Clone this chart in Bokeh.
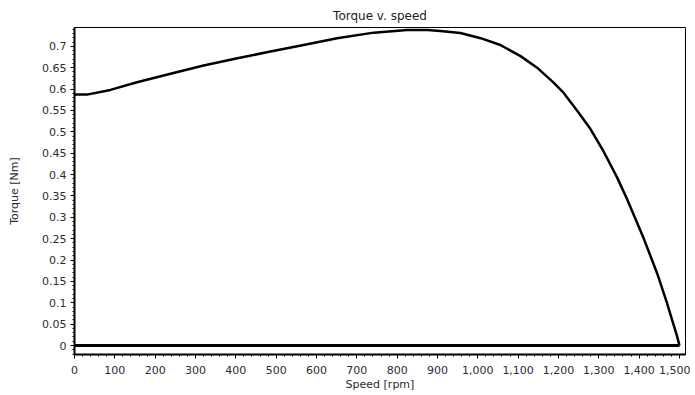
from bokeh.plotting import figure
from bokeh.models import Range1d, NumeralTickFormatter, SingleIntervalTicker
from bokeh.embed import file_html
from bokeh.resources import INLINE

# Data
speed = [0, 31, 89, 155, 238, 320, 404, 486, 568, 651, 742, 825, 875, 907, 957,
         1007, 1056, 1106, 1147, 1188, 1213, 1246, 1279, 1312, 1345, 1370,
         1412, 1445, 1469, 1494, 1500]
torque = [0.587, 0.587, 0.598, 0.616, 0.636, 0.655, 0.672, 0.688, 0.703, 0.719,
          0.732, 0.738, 0.738, 0.736, 0.731, 0.719, 0.703, 0.677, 0.650, 0.615,
          0.591, 0.550, 0.507, 0.454, 0.394, 0.343, 0.249, 0.168, 0.100, 0.022,
          0.0]
zero_speed = [0, 1500]
zero_torque = [0.0, 0.0]

FONT = "DejaVu Sans"
TXT = "#2a2a3a"

p = figure(width=690, height=393, output_backend="svg", toolbar_location=None,
           x_range=Range1d(0, 1515), y_range=Range1d(-0.021, 0.744),
           title="Torque v. speed",
           min_border_left=74, min_border_right=5, min_border_top=27, min_border_bottom=38)

p.line(speed, torque, line_color="black", line_width=2.5, line_join="round")
p.line(zero_speed, zero_torque, line_color="black", line_width=3)

p.title.align = "center"
p.title.text_font = FONT
p.title.text_font_size = "12px"
p.title.text_font_style = "normal"
p.title.text_color = "#222222"
p.title.standoff = 10

p.xgrid.visible = False
p.ygrid.visible = False
p.outline_line_color = "black"
p.outline_line_width = 1
p.background_fill_color = "white"
p.border_fill_color = "white"

p.xaxis.ticker = SingleIntervalTicker(interval=100, num_minor_ticks=5)
p.yaxis.ticker = SingleIntervalTicker(interval=0.05, num_minor_ticks=5)
p.xaxis.formatter = NumeralTickFormatter(format="0,0")
p.yaxis.formatter = NumeralTickFormatter(format="0.[00]")
p.xaxis.axis_label = "Speed [rpm]"
p.yaxis.axis_label = "Torque [Nm]"

for ax in (p.xaxis, p.yaxis):
    ax.axis_line_width = 2
    ax.axis_line_color = "black"
    ax.major_tick_line_color = "black"
    ax.minor_tick_line_color = "black"
    ax.major_tick_out = 4
    ax.major_tick_in = 0
    ax.minor_tick_out = 2
    ax.minor_tick_in = 0
    ax.major_label_text_font = FONT
    ax.major_label_text_font_size = "11px"
    ax.major_label_text_color = TXT
    ax.axis_label_text_font = FONT
    ax.axis_label_text_font_size = "11px"
    ax.axis_label_text_font_style = "normal"
    ax.axis_label_text_color = TXT

p.xaxis.major_label_standoff = 7
p.xaxis.axis_label_standoff = 1
p.yaxis.major_label_standoff = 4
p.yaxis.axis_label_standoff = 18

open("out.html", "w").write(file_html(p, INLINE))
